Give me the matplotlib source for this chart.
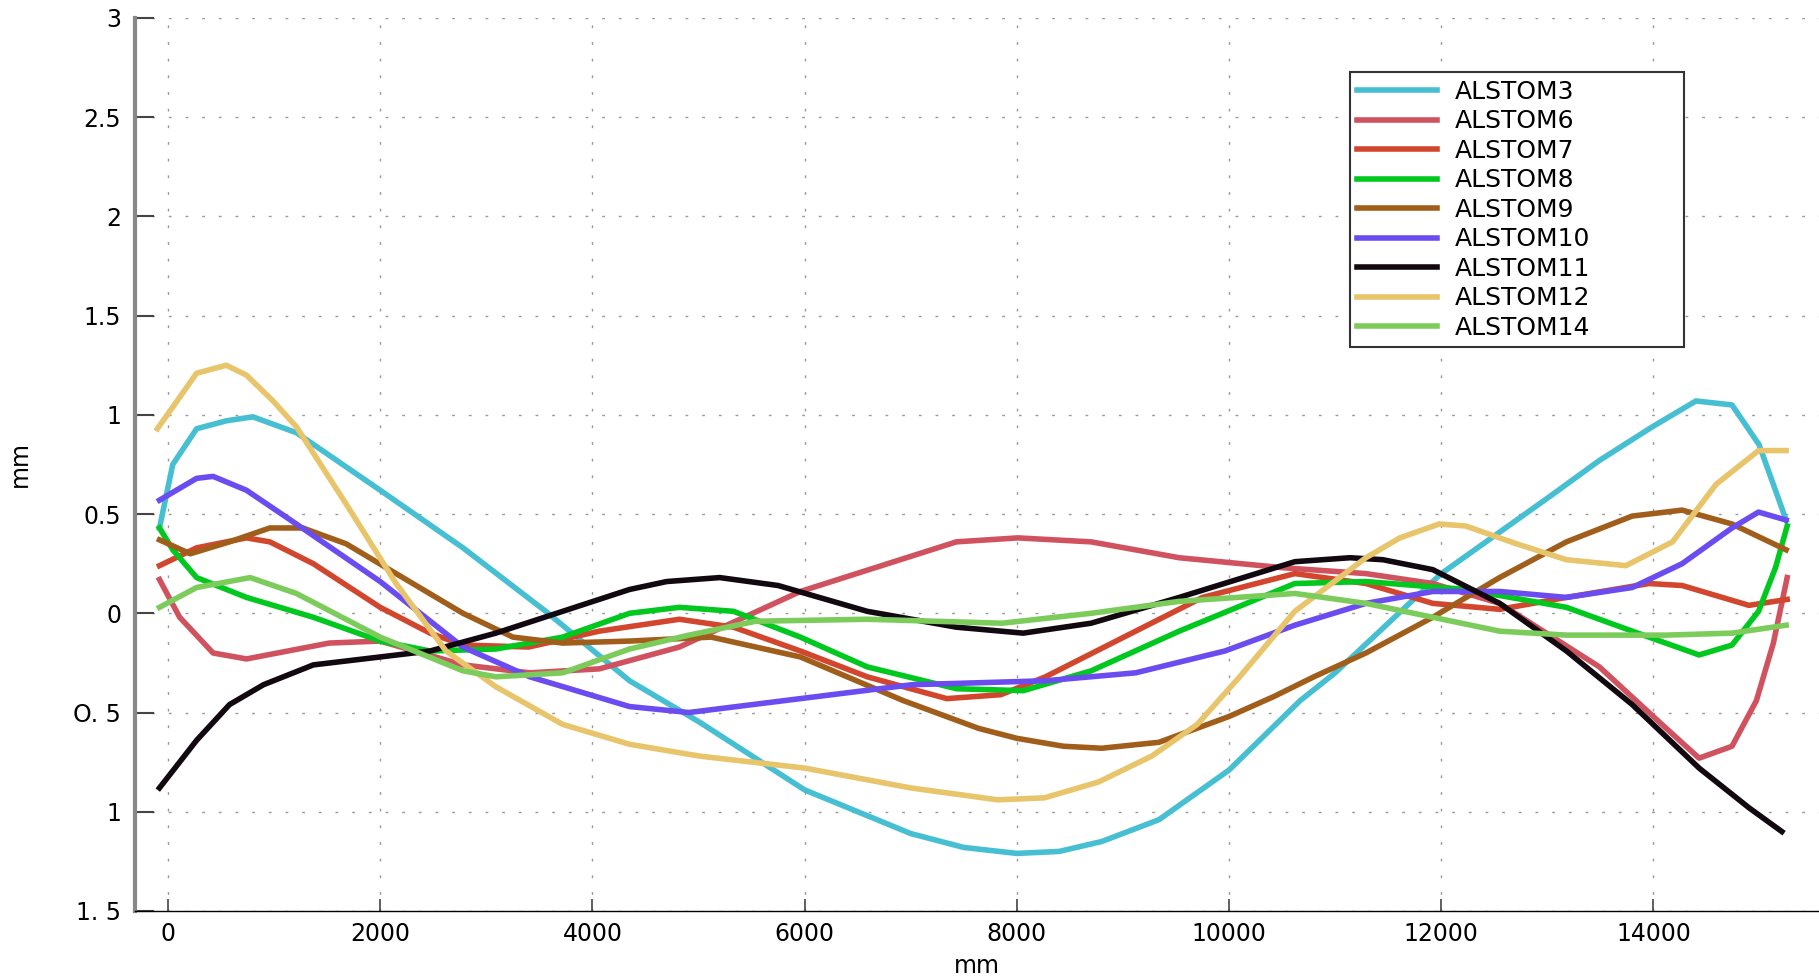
import matplotlib
matplotlib.use("Agg")
import matplotlib.pyplot as plt

plt.rcParams['font.family'] = ['DejaVu Sans']

# ALSTOM3
x3 = [-80, 45, 270, 550, 800, 1210, 2000, 2780, 3560, 4350, 5014, 6000, 7000, 7500, 8000, 8400, 8800, 9340, 10000, 10670, 11000, 12000, 13000, 13490, 13990, 14400, 14740, 14995, 15250]
y3 = [0.43, 0.75, 0.93, 0.97, 0.99, 0.91, 0.62, 0.33, 0.01, -0.34, -0.55, -0.89, -1.11, -1.18, -1.21, -1.20, -1.15, -1.04, -0.79, -0.44, -0.30, 0.20, 0.58, 0.77, 0.94, 1.07, 1.05, 0.85, 0.47]

# ALSTOM6
x6 = [-80, 110, 425, 740, 1520, 2000, 2780, 3410, 4065, 4820, 5960, 7430, 8010, 8700, 9530, 10500, 11290, 11920, 12550, 13490, 14120, 14430, 14740, 14970, 15130, 15260]
y6 = [0.17, -0.02, -0.20, -0.23, -0.15, -0.14, -0.26, -0.30, -0.28, -0.17, 0.11, 0.36, 0.38, 0.36, 0.28, 0.23, 0.20, 0.15, 0.05, -0.27, -0.58, -0.73, -0.67, -0.44, -0.15, 0.18]

# ALSTOM7
x7 = [-80, 270, 740, 960, 1370, 2000, 2470, 2780, 3400, 4065, 4820, 5330, 5960, 6590, 7340, 7850, 8270, 9120, 9750, 10620, 11290, 11920, 12550, 13180, 13960, 14270, 14900, 15260]
y7 = [0.24, 0.33, 0.38, 0.36, 0.25, 0.03, -0.10, -0.16, -0.17, -0.09, -0.03, -0.07, -0.19, -0.32, -0.43, -0.41, -0.32, -0.09, 0.08, 0.20, 0.15, 0.05, 0.02, 0.08, 0.15, 0.14, 0.04, 0.07]

# ALSTOM8
x8 = [-80, 45, 270, 740, 1370, 2000, 2470, 3090, 3720, 4350, 4820, 5330, 5960, 6590, 7430, 8060, 8700, 9530, 10620, 11290, 12230, 13180, 13800, 14430, 14740, 14990, 15150, 15260]
y8 = [0.43, 0.32, 0.18, 0.08, -0.02, -0.14, -0.19, -0.18, -0.12, 0.00, 0.03, 0.01, -0.12, -0.27, -0.38, -0.39, -0.29, -0.09, 0.15, 0.16, 0.12, 0.03, -0.09, -0.21, -0.16, 0.01, 0.23, 0.44]

# ALSTOM9
x9 = [-80, 210, 580, 960, 1270, 1680, 2150, 2780, 3250, 3720, 4350, 5120, 5960, 6930, 7640, 8000, 8440, 8800, 9340, 10000, 10420, 10800, 11290, 11920, 12550, 13180, 13800, 14270, 14740, 15250]
y9 = [0.37, 0.30, 0.36, 0.43, 0.43, 0.35, 0.20, 0.00, -0.12, -0.15, -0.14, -0.12, -0.22, -0.44, -0.58, -0.63, -0.67, -0.68, -0.65, -0.52, -0.42, -0.32, -0.20, -0.02, 0.18, 0.36, 0.49, 0.52, 0.45, 0.32]

# ALSTOM10
x10 = [-80, 270, 425, 740, 1210, 2000, 2780, 3410, 4350, 4910, 5960, 7010, 8270, 9120, 9960, 10620, 11290, 11920, 12550, 13180, 13800, 14270, 14740, 14990, 15250]
y10 = [0.57, 0.68, 0.69, 0.62, 0.45, 0.16, -0.17, -0.32, -0.47, -0.50, -0.43, -0.36, -0.34, -0.30, -0.19, -0.06, 0.05, 0.11, 0.11, 0.08, 0.13, 0.25, 0.43, 0.51, 0.47]

# ALSTOM11
x11 = [-80, 270, 580, 900, 1370, 2000, 2470, 3090, 3720, 4350, 4700, 5200, 5750, 6590, 7430, 8060, 8700, 9530, 10620, 11140, 11450, 11920, 12550, 13180, 13800, 14430, 14900, 15210]
y11 = [-0.88, -0.64, -0.46, -0.36, -0.26, -0.22, -0.19, -0.10, 0.01, 0.12, 0.16, 0.18, 0.14, 0.01, -0.07, -0.10, -0.05, 0.08, 0.26, 0.28, 0.27, 0.22, 0.05, -0.19, -0.46, -0.78, -0.98, -1.10]

# ALSTOM12
x12 = [-100, 20, 270, 550, 740, 990, 1210, 1680, 2150, 2620, 3090, 3720, 4350, 5014, 6000, 7000, 7820, 8260, 8770, 9270, 9700, 10100, 10620, 11290, 11610, 11980, 12230, 12710, 13180, 13740, 14180, 14590, 14990, 15250]
y12 = [0.93, 1.02, 1.21, 1.25, 1.20, 1.07, 0.94, 0.55, 0.15, -0.19, -0.37, -0.56, -0.66, -0.72, -0.78, -0.88, -0.94, -0.93, -0.85, -0.72, -0.56, -0.32, 0.01, 0.28, 0.38, 0.45, 0.44, 0.35, 0.27, 0.24, 0.36, 0.65, 0.82, 0.82]

# ALSTOM14
x14 = [-80, 270, 775, 1210, 2000, 2780, 3090, 3720, 4350, 4910, 5540, 6590, 7860, 8700, 9530, 10620, 11290, 11920, 12550, 13180, 14120, 14740, 15250]
y14 = [0.03, 0.13, 0.18, 0.10, -0.12, -0.29, -0.32, -0.30, -0.18, -0.11, -0.04, -0.03, -0.05, 0.00, 0.06, 0.10, 0.05, -0.02, -0.09, -0.11, -0.11, -0.10, -0.06]

names = ['ALSTOM3', 'ALSTOM6', 'ALSTOM7', 'ALSTOM8', 'ALSTOM9',
         'ALSTOM10', 'ALSTOM11', 'ALSTOM12', 'ALSTOM14']
xs = [x3, x6, x7, x8, x9, x10, x11, x12, x14]
ys = [y3, y6, y7, y8, y9, y10, y11, y12, y14]
colors = ['#46bfd2', '#d0525f', '#d2462e', '#00c81e', '#a05e1a',
          '#6a4cf0', '#120810', '#e8c46a', '#7ccc5c']

yticks = [-1.5, -1, -0.5, 0, 0.5, 1, 1.5, 2, 2.5, 3]
ytick_labels = ['1. 5', '1', 'O. 5', '0', '0.5', '1', '1.5', '2', '2.5', '3']
xticks = [0, 2000, 4000, 6000, 8000, 10000, 12000, 14000]

fig = plt.figure(figsize=(18.19, 9.77), dpi=100)
ax = fig.add_axes([0.0742, 0.0676, 0.9258, 0.914])

for x, y, c, n in zip(xs, ys, colors, names):
    ax.plot(x, y, color=c, lw=4, label=n, solid_joinstyle='round')

ax.set_xlim(-311, 15560)
ax.set_ylim(-1.5, 3)
ax.set_yticks(yticks)
ax.set_yticklabels(ytick_labels)
ax.set_xticks(xticks)
ax.set_xticklabels([str(t) for t in xticks])

ax.grid(True, color='#999999', lw=1.0, linestyle=(0, (2, 10)))
ax.tick_params(axis='y', direction='in', length=14, width=1.5, color='#444444',
               labelsize=17, pad=10)
ax.tick_params(axis='x', direction='in', length=9, width=1.2, color='#444444',
               labelsize=17, pad=8)

for s in ['top', 'right']:
    ax.spines[s].set_visible(False)
ax.spines['left'].set_color('#888888')
ax.spines['left'].set_linewidth(3)
ax.spines['bottom'].set_color('black')
ax.spines['bottom'].set_linewidth(1)

ax.set_xlabel('mm', fontsize=17)
ax.set_ylabel('mm', fontsize=17)
ax.xaxis.set_label_coords(0.5, -0.048)
ax.yaxis.set_label_coords(-0.061, 0.5)

leg = ax.legend(loc='upper left', bbox_to_anchor=(0.7215, 0.929, 0.1983, 0.01),
                mode='expand', borderaxespad=0, fontsize=18, labelspacing=0.22,
                handlelength=3.2, handletextpad=0.7, borderpad=0.3,
                fancybox=False, framealpha=1)
leg.get_frame().set_edgecolor('#333333')
leg.get_frame().set_linewidth(1.5)

fig.savefig('out.png', dpi=100)
